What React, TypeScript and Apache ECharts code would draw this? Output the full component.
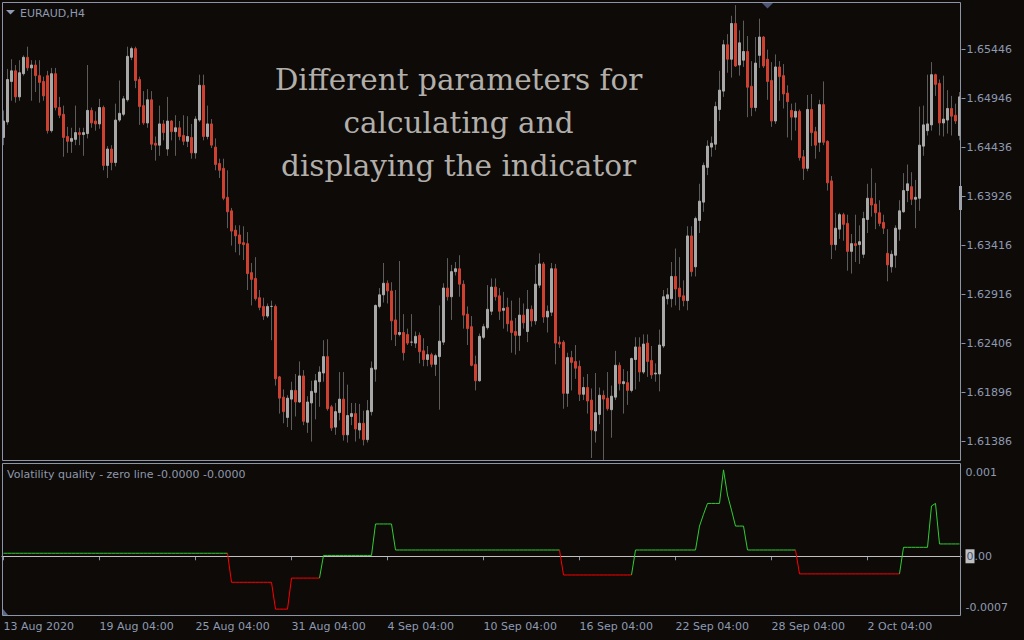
import React, { useEffect, useRef } from "react";
import * as echarts from "echarts";

// ---------- data ----------
const tradingDays = ["13 Aug","14 Aug","17 Aug","18 Aug","19 Aug","20 Aug","21 Aug","24 Aug","25 Aug","26 Aug","27 Aug","28 Aug","31 Aug","1 Sep","2 Sep","3 Sep","4 Sep","7 Sep","8 Sep","9 Sep","10 Sep","11 Sep","14 Sep","15 Sep","16 Sep","17 Sep","18 Sep","21 Sep","22 Sep","23 Sep","24 Sep","25 Sep","28 Sep","29 Sep","30 Sep","1 Oct","2 Oct","5 Oct","6 Oct","7 Oct","8 Oct"];
const barHours = ["00:00","04:00","08:00","12:00","16:00","20:00"];
const firstDateLabel = "13 Aug 2020";
const categories = tradingDays.flatMap((d) => barHours.map((h) => `${d} ${h}`)).slice(1, 241);
const dateLabelEvery = 24;

const priceLabels = ["1.61386","1.61896","1.62406","1.62916","1.63416","1.63926","1.64436","1.64946","1.65446"];
const priceMin = 1.61386;
const priceMax = 1.65446;

const subLabelValues = [0.001, 0, -0.0007];
const subLabels = ["0.001", "0.00", "-0.0007"];
const subMin = -0.0007;
const subMax = 0.0011;

const opens = [
1.6453,1.6469,1.6511,1.6522,1.6495,1.6519,1.6536,1.6525,1.6528,1.6517,1.6511,1.6517,1.6460,1.6519,1.6484,1.6477,1.6454,1.6449,1.6451,1.6458,
1.6456,1.6457,1.6481,1.6470,1.6467,1.6484,1.6424,1.6441,1.6427,1.6471,1.6477,1.6492,1.6536,1.6545,1.6513,1.6486,1.6468,1.6492,1.6447,1.6445,
1.6467,1.6441,1.6470,1.6459,1.6463,1.6455,1.6449,1.6453,1.6437,1.6471,1.6507,1.6454,1.6467,1.6443,1.6426,1.6421,1.6391,1.6377,1.6357,1.6352,
1.6344,1.6343,1.6313,1.6307,1.6287,1.6278,1.6268,1.6278,1.6278,1.6205,1.6184,1.6163,1.6182,1.6191,1.6179,1.6206,1.6158,1.6178,1.6189,1.6200,
1.6209,1.6226,1.6174,1.6153,1.6168,1.6182,1.6145,1.6164,1.6167,1.6150,1.6157,1.6140,1.6169,1.6213,1.6278,1.6290,1.6302,1.6294,1.6264,1.6249,
1.6251,1.6249,1.6241,1.6240,1.6248,1.6232,1.6223,1.6228,1.6218,1.6226,1.6241,1.6297,1.6288,1.6314,1.6317,1.6301,1.6270,1.6257,1.6218,1.6201,
1.6246,1.6256,1.6273,1.6298,1.6289,1.6274,1.6277,1.6263,1.6252,1.6248,1.6269,1.6252,1.6275,1.6263,1.6300,1.6322,1.6267,1.6272,1.6317,1.6241,
1.6241,1.6188,1.6225,1.6221,1.6216,1.6187,1.6194,1.6181,1.6149,1.6166,1.6186,1.6183,1.6171,1.6184,1.6217,1.6198,1.6199,1.6191,1.6223,1.6236,
1.6210,1.6240,1.6222,1.6208,1.6208,1.6237,1.6286,1.6286,1.6309,1.6297,1.6289,1.6284,1.6351,1.6319,1.6367,1.6386,1.6422,1.6443,1.6446,1.6482,
1.6501,1.6549,1.6534,1.6571,1.6528,1.6533,1.6542,1.6506,1.6484,1.6538,1.6557,1.6534,1.6512,1.6470,1.6526,1.6517,1.6499,1.6481,1.6474,1.6480,
1.6433,1.6421,1.6482,1.6459,1.6448,1.6487,1.6449,1.6408,1.6342,1.6358,1.6373,1.6364,1.6335,1.6343,1.6342,1.6332,1.6368,1.6390,1.6384,1.6375,
1.6365,1.6333,1.6319,1.6331,1.6358,1.6376,1.6398,1.6402,1.6389,1.6390,1.6444,1.6460,1.6466,1.6518,1.6509,1.6468,1.6471,1.6483,1.6476,1.6455
];
const closes = [
1.6470,1.6513,1.6522,1.6495,1.6520,1.6536,1.6525,1.6528,1.6517,1.6510,1.6496,1.6460,1.6519,1.6484,1.6476,1.6453,1.6449,1.6452,1.6458,1.6456,
1.6458,1.6481,1.6468,1.6467,1.6484,1.6424,1.6441,1.6427,1.6471,1.6478,1.6493,1.6537,1.6545,1.6512,1.6485,1.6468,1.6492,1.6446,1.6445,1.6467,
1.6458,1.6470,1.6459,1.6463,1.6454,1.6449,1.6454,1.6437,1.6472,1.6507,1.6454,1.6467,1.6445,1.6425,1.6419,1.6390,1.6376,1.6356,1.6351,1.6343,
1.6342,1.6312,1.6306,1.6286,1.6277,1.6268,1.6278,1.6278,1.6203,1.6183,1.6169,1.6183,1.6191,1.6179,1.6206,1.6159,1.6179,1.6190,1.6201,1.6210,
1.6226,1.6172,1.6152,1.6169,1.6182,1.6145,1.6165,1.6167,1.6151,1.6157,1.6140,1.6170,1.6214,1.6279,1.6290,1.6302,1.6294,1.6263,1.6249,1.6251,
1.6230,1.6240,1.6241,1.6247,1.6231,1.6223,1.6228,1.6218,1.6227,1.6242,1.6297,1.6288,1.6314,1.6317,1.6301,1.6269,1.6255,1.6217,1.6201,1.6247,
1.6257,1.6275,1.6298,1.6288,1.6273,1.6276,1.6260,1.6251,1.6248,1.6269,1.6261,1.6275,1.6263,1.6301,1.6322,1.6267,1.6273,1.6317,1.6240,1.6239,
1.6188,1.6225,1.6220,1.6214,1.6187,1.6194,1.6180,1.6150,1.6168,1.6186,1.6182,1.6172,1.6185,1.6217,1.6198,1.6200,1.6191,1.6224,1.6236,1.6210,
1.6239,1.6221,1.6207,1.6209,1.6238,1.6288,1.6290,1.6309,1.6296,1.6288,1.6284,1.6351,1.6314,1.6369,1.6387,1.6424,1.6444,1.6447,1.6485,1.6502,
1.6549,1.6534,1.6571,1.6527,1.6551,1.6542,1.6505,1.6484,1.6530,1.6557,1.6527,1.6511,1.6470,1.6526,1.6516,1.6498,1.6490,1.6474,1.6480,1.6432,
1.6421,1.6482,1.6458,1.6445,1.6487,1.6448,1.6406,1.6342,1.6359,1.6373,1.6363,1.6335,1.6343,1.6341,1.6345,1.6369,1.6390,1.6383,1.6375,1.6364,
1.6359,1.6321,1.6332,1.6359,1.6377,1.6398,1.6405,1.6389,1.6391,1.6445,1.6466,1.6467,1.6518,1.6508,1.6468,1.6472,1.6483,1.6475,1.6470,1.6495
];
const lows = [
1.6445,1.6466,1.6491,1.6489,1.6491,1.6517,1.6522,1.6491,1.6500,1.6489,1.6491,1.6457,1.6458,1.6481,1.6473,1.6433,1.6437,1.6437,1.6445,1.6445,
1.6434,1.6452,1.6463,1.6460,1.6462,1.6419,1.6411,1.6419,1.6423,1.6469,1.6475,1.6490,1.6533,1.6504,1.6466,1.6466,1.6463,1.6440,1.6429,1.6434,
1.6450,1.6434,1.6450,1.6434,1.6450,1.6445,1.6443,1.6431,1.6431,1.6469,1.6450,1.6451,1.6442,1.6419,1.6411,1.6388,1.6359,1.6341,1.6334,1.6331,
1.6326,1.6295,1.6279,1.6284,1.6274,1.6264,1.6266,1.6243,1.6196,1.6167,1.6157,1.6153,1.6150,1.6164,1.6178,1.6155,1.6147,1.6138,1.6161,1.6174,
1.6200,1.6170,1.6149,1.6145,1.6160,1.6139,1.6137,1.6155,1.6138,1.6141,1.6134,1.6137,1.6165,1.6200,1.6276,1.6282,1.6281,1.6243,1.6237,1.6247,
1.6222,1.6238,1.6237,1.6235,1.6219,1.6216,1.6216,1.6215,1.6206,1.6171,1.6238,1.6284,1.6264,1.6310,1.6288,1.6255,1.6238,1.6216,1.6191,1.6200,
1.6244,1.6254,1.6269,1.6284,1.6264,1.6255,1.6252,1.6230,1.6228,1.6232,1.6255,1.6241,1.6257,1.6259,1.6297,1.6261,1.6251,1.6268,1.6218,1.6235,
1.6172,1.6174,1.6191,1.6203,1.6180,1.6181,1.6167,1.6121,1.6137,1.6156,1.6119,1.6170,1.6142,1.6181,1.6191,1.6167,1.6176,1.6189,1.6192,1.6200,
1.6208,1.6205,1.6203,1.6200,1.6190,1.6235,1.6280,1.6277,1.6279,1.6274,1.6278,1.6274,1.6309,1.6309,1.6354,1.6376,1.6414,1.6433,1.6440,1.6470,
1.6495,1.6520,1.6515,1.6526,1.6517,1.6526,1.6474,1.6475,1.6480,1.6525,1.6525,1.6492,1.6464,1.6467,1.6491,1.6483,1.6453,1.6450,1.6460,1.6429,
1.6409,1.6418,1.6444,1.6431,1.6438,1.6445,1.6398,1.6327,1.6336,1.6348,1.6346,1.6315,1.6312,1.6324,1.6322,1.6328,1.6354,1.6371,1.6358,1.6361,
1.6353,1.6304,1.6313,1.6318,1.6346,1.6375,1.6386,1.6383,1.6359,1.6377,1.6434,1.6455,1.6460,1.6496,1.6455,1.6454,1.6457,1.6455,1.6467,1.6450
];
const highs = [
1.6481,1.6524,1.6534,1.6528,1.6533,1.6538,1.6547,1.6533,1.6533,1.6533,1.6516,1.6522,1.6525,1.6525,1.6495,1.6486,1.6464,1.6463,1.6486,1.6463,
1.6463,1.6528,1.6484,1.6480,1.6493,1.6486,1.6444,1.6445,1.6488,1.6512,1.6496,1.6547,1.6547,1.6547,1.6516,1.6501,1.6503,1.6501,1.6454,1.6486,
1.6471,1.6495,1.6471,1.6476,1.6470,1.6476,1.6475,1.6467,1.6475,1.6518,1.6518,1.6486,1.6472,1.6452,1.6431,1.6431,1.6419,1.6380,1.6362,1.6362,
1.6361,1.6355,1.6323,1.6329,1.6295,1.6287,1.6281,1.6284,1.6280,1.6206,1.6192,1.6186,1.6200,1.6208,1.6221,1.6212,1.6185,1.6201,1.6208,1.6216,
1.6243,1.6244,1.6176,1.6178,1.6210,1.6210,1.6197,1.6178,1.6178,1.6177,1.6170,1.6181,1.6221,1.6280,1.6297,1.6323,1.6305,1.6303,1.6295,1.6325,
1.6270,1.6255,1.6270,1.6252,1.6251,1.6245,1.6237,1.6230,1.6229,1.6279,1.6302,1.6328,1.6321,1.6324,1.6331,1.6305,1.6278,1.6268,1.6227,1.6250,
1.6260,1.6300,1.6307,1.6307,1.6297,1.6293,1.6287,1.6284,1.6266,1.6287,1.6281,1.6295,1.6279,1.6321,1.6333,1.6324,1.6279,1.6323,1.6322,1.6247,
1.6243,1.6230,1.6232,1.6238,1.6222,1.6205,1.6208,1.6193,1.6209,1.6194,1.6191,1.6210,1.6196,1.6232,1.6220,1.6213,1.6211,1.6225,1.6246,1.6246,
1.6249,1.6249,1.6237,1.6219,1.6254,1.6295,1.6297,1.6324,1.6338,1.6329,1.6305,1.6361,1.6361,1.6371,1.6405,1.6427,1.6450,1.6454,1.6490,1.6522,
1.6554,1.6560,1.6579,1.6590,1.6564,1.6574,1.6558,1.6532,1.6557,1.6576,1.6558,1.6544,1.6531,1.6539,1.6532,1.6529,1.6507,1.6488,1.6489,1.6482,
1.6440,1.6497,1.6498,1.6464,1.6492,1.6511,1.6450,1.6413,1.6375,1.6375,1.6375,1.6373,1.6353,1.6373,1.6362,1.6376,1.6405,1.6421,1.6406,1.6388,
1.6373,1.6358,1.6336,1.6362,1.6388,1.6416,1.6425,1.6417,1.6409,1.6485,1.6486,1.6518,1.6531,1.6519,1.6513,1.6517,1.6502,1.6496,1.6488,1.6500
];
const volatilityQuality = [
0.000036,0.000036,0.000036,0.000036,0.000036,0.000036,0.000036,0.000036,0.000036,0.000036,0.000036,0.000036,0.000036,0.000036,0.000036,0.000036,0.000036,0.000036,0.000036,0.000036,
0.000036,0.000036,0.000036,0.000036,0.000036,0.000036,0.000036,0.000036,0.000036,0.000036,0.000036,0.000036,0.000036,0.000036,0.000036,0.000036,0.000036,0.000036,0.000036,0.000036,
0.000036,0.000036,0.000036,0.000036,0.000036,0.000036,0.000036,0.000036,0.000036,0.000036,0.000036,0.000036,0.000036,0.000036,0.000036,0.000036,0.000036,-0.00031,-0.00031,-0.00031,
-0.00031,-0.00031,-0.00031,-0.00031,-0.00031,-0.00031,-0.00031,-0.00031,-0.00063,-0.00063,-0.00063,-0.00063,-0.00026,-0.00026,-0.00026,-0.00026,-0.00026,-0.00026,-0.00026,-0.00026,
0.00001,0.00001,0.00001,0.00001,0.00001,0.00001,0.00001,0.00001,0.00001,0.00001,0.00001,0.00001,0.00001,0.000385,0.000385,0.000385,0.000385,0.000385,0.000075,0.000075,
0.000075,0.000075,0.000075,0.000075,0.000075,0.000075,0.000075,0.000075,0.000075,0.000075,0.000075,0.000075,0.000075,0.000075,0.000075,0.000075,0.000075,0.000075,0.000075,0.000075,
0.000075,0.000075,0.000075,0.000075,0.000075,0.000075,0.000075,0.000075,0.000075,0.000075,0.000075,0.000075,0.000075,0.000075,0.000075,0.000075,0.000075,0.000075,0.000075,0.000075,
-0.000223,-0.000223,-0.000223,-0.000223,-0.000223,-0.000223,-0.000223,-0.000223,-0.000223,-0.000223,-0.000223,-0.000223,-0.000223,-0.000223,-0.000223,-0.000223,-0.000223,-0.000223,0.000075,0.000075,
0.000075,0.000075,0.000075,0.000075,0.000075,0.000075,0.000075,0.000075,0.000075,0.000075,0.000075,0.000075,0.000075,0.000075,0.00036,0.0005,0.00063,0.00063,0.00063,0.00063,
0.00103,0.00073,0.00055,0.00036,0.00036,0.00036,0.000075,0.000075,0.000075,0.000075,0.000075,0.000075,0.000075,0.000075,0.000075,0.000075,0.000075,0.000075,0.000075,-0.00021,
-0.00021,-0.00021,-0.00021,-0.00021,-0.00021,-0.00021,-0.00021,-0.00021,-0.00021,-0.00021,-0.00021,-0.00021,-0.00021,-0.00021,-0.00021,-0.00021,-0.00021,-0.00021,-0.00021,-0.00021,
-0.00021,-0.00021,-0.00021,-0.00021,-0.00021,0.000107,0.000107,0.000107,0.000107,0.000107,0.000107,0.000107,0.0006,0.00063,0.000147,0.000147,0.000147,0.000147,0.000147,0.000147
];

// ---------- style ----------
const BG = "#0d0a08";
const BORDER = "#8c95a8";
const LABEL = "#8e9ab0";
const BULL = "#a8a8a8";
const BEAR = "#cc4130";
const WICK = "#5c5c5c";
const UP = "#32cd32";
const DOWN = "#ff0000";
const ZERO = "#c0c0c0";
const FONT = '"DejaVu Sans", sans-serif';

export default function App() {
  const ref = useRef<HTMLDivElement>(null);

  useEffect(() => {
    if (!ref.current) return;
    const chart = echarts.init(ref.current, null, { renderer: "svg" });

    const full = opens.map((o, i) => [o, closes[i], lows[i], highs[i]]);
    const bodies = opens.map((o, i) => [o, closes[i], Math.min(o, closes[i]), Math.max(o, closes[i])]);
    const n = volatilityQuality.length;
    const greenPart = volatilityQuality.map((v, i) =>
      v >= 0 || (i + 1 < n && volatilityQuality[i + 1] >= 0) ? v : null
    );
    const redPart = volatilityQuality.map((v, i) =>
      v < 0 || (i + 1 < n && volatilityQuality[i + 1] < 0) ? v : null
    );
    const showDate = (index: number) => index % dateLabelEvery === 0;
    const priceStep = (priceMax - priceMin) / (priceLabels.length - 1);

    chart.setOption({
      animation: false,
      backgroundColor: BG,
      textStyle: { fontFamily: FONT },
      grid: [
        { left: 1.5, right: 62.5, top: 49, bottom: 199 },
        { left: 1.5, right: 62.5, top: 464, bottom: 25 },
      ],
      xAxis: [
        { type: "category", gridIndex: 0, data: categories, boundaryGap: true, show: false },
        {
          type: "category",
          gridIndex: 1,
          data: categories,
          boundaryGap: true,
          axisLine: { show: false },
          splitLine: { show: false },
          axisTick: {
            show: true,
            alignWithLabel: true,
            interval: showDate,
            length: 4,
            lineStyle: { color: BORDER },
          },
          axisLabel: {
            interval: showDate,
            formatter: (v: string, i: number) => (i === 0 ? firstDateLabel : v),
            align: "left",
            margin: 6,
            color: LABEL,
            fontSize: 11,
            fontFamily: FONT,
          },
        },
      ],
      yAxis: [
        {
          type: "value",
          gridIndex: 0,
          position: "right",
          min: priceMin,
          max: priceMax,
          interval: priceStep,
          axisLine: { show: false },
          splitLine: { show: false },
          axisTick: { show: true, length: 4, lineStyle: { color: BORDER } },
          axisLabel: {
            formatter: (v: number) => priceLabels[Math.round((v - priceMin) / priceStep)] ?? "",
            margin: 5,
            color: LABEL,
            fontSize: 11,
            fontFamily: FONT,
          },
        },
        {
          type: "value",
          gridIndex: 1,
          position: "right",
          min: subMin,
          max: subMax,
          interval: 0.0001,
          axisLine: { show: false },
          splitLine: { show: false },
          axisTick: { show: false },
          axisLabel: {
            margin: 4,
            color: LABEL,
            fontSize: 11,
            fontFamily: FONT,
            lineHeight: 16,
            formatter: (v: number) => {
              const k = subLabelValues.findIndex((s) => Math.abs(s - v) < 1e-9);
              if (k < 0) return "";
              const s = subLabels[k];
              if (subLabelValues[k] === 0) return `{box|${s[0]}}${s.slice(1)}`;
              if (subLabelValues[k] === subMin) return `${s}\n `;
              return s;
            },
            rich: {
              box: {
                backgroundColor: "#c0c0c0",
                color: "#44527a",
                fontSize: 11,
                fontFamily: FONT,
                padding: [2, 1, 1, 1],
              },
            },
          },
        },
      ],
      series: [
        {
          name: "wicks",
          type: "candlestick",
          xAxisIndex: 0,
          yAxisIndex: 0,
          data: full,
          barWidth: 1,
          clip: false,
          silent: true,
          itemStyle: {
            color: WICK,
            color0: WICK,
            borderColor: WICK,
            borderColor0: WICK,
            borderColorDoji: WICK,
            borderWidth: 1,
          },
        },
        {
          name: "bodies",
          type: "candlestick",
          xAxisIndex: 0,
          yAxisIndex: 0,
          data: bodies,
          barWidth: 2,
          clip: false,
          silent: true,
          itemStyle: {
            color: BULL,
            color0: BEAR,
            borderColor: BULL,
            borderColor0: BEAR,
            borderColorDoji: BULL,
            borderWidth: 1,
          },
        },
        {
          name: "VQ up",
          type: "line",
          xAxisIndex: 1,
          yAxisIndex: 1,
          data: greenPart,
          symbol: "none",
          silent: true,
          connectNulls: false,
          lineStyle: { color: UP, width: 1 },
          z: 3,
          markLine: {
            silent: true,
            symbol: ["none", "none"],
            label: { show: false },
            lineStyle: { color: ZERO, type: "solid", width: 1 },
            data: [{ yAxis: 0 }],
            z: 1,
          },
        },
        {
          name: "VQ down",
          type: "line",
          xAxisIndex: 1,
          yAxisIndex: 1,
          data: redPart,
          symbol: "none",
          silent: true,
          connectNulls: false,
          lineStyle: { color: DOWN, width: 1 },
          z: 3,
        },
      ],
      graphic: [
        {
          type: "rect",
          z: 100,
          silent: true,
          shape: { x: 2.5, y: 2.5, width: 958, height: 458 },
          style: { fill: "none", stroke: BORDER, lineWidth: 1 },
        },
        {
          type: "rect",
          z: 100,
          silent: true,
          shape: { x: 2.5, y: 463.5, width: 958, height: 152 },
          style: { fill: "none", stroke: BORDER, lineWidth: 1 },
        },
        {
          type: "rect",
          z: 101,
          silent: true,
          shape: { x: 959, y: 186, width: 3, height: 24 },
          style: { fill: "#9ea2ad" },
        },
        {
          type: "polygon",
          z: 100,
          silent: true,
          shape: { points: [[6, 10], [15, 10], [10.5, 14.5]] },
          style: { fill: LABEL },
        },
        {
          type: "polygon",
          z: 100,
          silent: true,
          shape: { points: [[762, 3], [773, 3], [767.5, 8.5]] },
          style: { fill: "#4e5677" },
        },
        {
          type: "polygon",
          z: 100,
          silent: true,
          shape: { points: [[3, 609], [8, 615], [3, 615]] },
          style: { fill: "#5a6688" },
        },
        {
          type: "text",
          z: 100,
          silent: true,
          x: 20,
          y: 13,
          style: {
            text: "EURAUD,H4",
            fill: LABEL,
            font: `11px ${FONT}`,
            verticalAlign: "middle",
            textVerticalAlign: "middle",
          },
        },
        {
          type: "text",
          z: 100,
          silent: true,
          x: 7,
          y: 474,
          style: {
            text: "Volatility quality - zero line -0.0000 -0.0000",
            fill: "#8f98aa",
            font: `11px ${FONT}`,
            verticalAlign: "middle",
            textVerticalAlign: "middle",
          },
        },
        {
          type: "text",
          z: 100,
          silent: true,
          x: 458.5,
          y: 58,
          style: {
            text: "Different parameters for\ncalculating and\ndisplaying the indicator",
            fill: "#b2afab",
            font: '29.5px "DejaVu Serif", serif',
            align: "center",
            textAlign: "center",
            verticalAlign: "top",
            textVerticalAlign: "top",
            lineHeight: 43,
          },
        },
      ],
    });

    return () => chart.dispose();
  }, []);

  return (
    <div
      ref={ref}
      style={{ position: "fixed", left: 0, top: 0, width: 1024, height: 640, background: BG }}
    />
  );
}
